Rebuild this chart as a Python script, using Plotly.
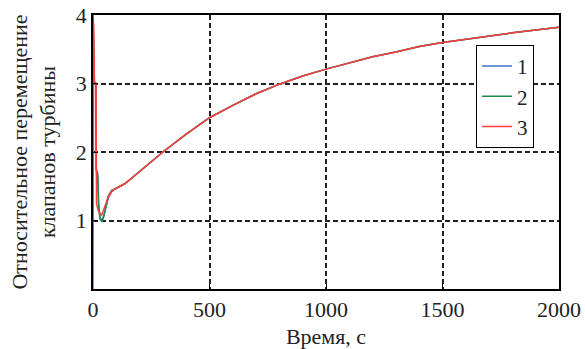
import plotly.graph_objects as go

# Early transient (time, s) for each series
t_early_1 = [0, 4, 6, 12, 14, 20, 24, 30, 38, 45, 55, 66, 80]
y_early_1 = [4.0, 3.3, 3.0, 3.0, 1.75, 1.7, 1.25, 1.05, 1.0, 1.06, 1.2, 1.33, 1.42]

t_early_2 = [0, 4, 6, 12, 14, 20, 24, 30, 38, 45, 55, 66, 80]
y_early_2 = [4.0, 3.3, 3.0, 3.0, 1.72, 1.65, 1.22, 1.02, 0.98, 1.04, 1.22, 1.36, 1.44]

t_early_3 = [0, 2, 3, 6, 13, 15, 22, 30, 37, 45, 55, 66, 80]
y_early_3 = [0.0, 3.88, 3.88, 3.03, 3.0, 1.25, 1.15, 1.1, 1.08, 1.15, 1.25, 1.35, 1.42]

# Common slow recovery (shared by all series)
t_tail = [94, 138, 180, 223, 260, 300, 400, 500, 600, 700, 800, 900, 1000,
          1100, 1200, 1300, 1400, 1500, 1600, 1700, 1800, 1900, 2000]
y_tail = [1.46, 1.54, 1.66, 1.78, 1.89, 2.0, 2.26, 2.5, 2.68, 2.85, 2.99, 3.11, 3.21,
          3.30, 3.39, 3.46, 3.54, 3.60, 3.65, 3.70, 3.74, 3.78, 3.82]

names = ["1", "2", "3"]
colors = ["#4472C4", "#1E8A4A", "#FF3B3B"]

x_ticks = [0, 500, 1000, 1500, 2000]
y_ticks = [1, 2, 3, 4]

series = [(t_early_1, y_early_1), (t_early_2, y_early_2), (t_early_3, y_early_3)]

FAM = "Liberation Serif"
FS = 22
TCOL = "#222222"

fig = go.Figure()
for (te, ye), name, col in zip(series, names, colors):
    fig.add_trace(go.Scatter(
        x=te + t_tail, y=ye + y_tail, mode="lines", name=name,
        line=dict(color=col, width=1.5)))

axis_common = dict(
    showline=True, mirror=True, linecolor="black", linewidth=1.5,
    showgrid=True, gridcolor="#222222", gridwidth=1.5, griddash="5px,3px",
    ticks="inside", ticklen=5, tickcolor="black", tickwidth=1,
    zeroline=False, automargin=False,
    tickfont=dict(family=FAM, size=FS, color=TCOL),
)

fig.update_layout(
    template="simple_white",
    width=585, height=349,
    margin=dict(l=93, r=26, t=15, b=60, autoexpand=False),
    paper_bgcolor="white", plot_bgcolor="white",
    font=dict(family=FAM, size=FS, color=TCOL),
    showlegend=True,
    legend=dict(
        x=0.822, y=0.891, xanchor="left", yanchor="top",
        bordercolor="black", borderwidth=1, bgcolor="white",
        font=dict(family=FAM, size=21, color=TCOL), tracegroupgap=0, itemwidth=30,
    ),
    xaxis=dict(range=[0, 2000], tickvals=x_ticks,
               title=dict(text="Время, с", standoff=10,
                          font=dict(family=FAM, size=FS, color=TCOL)),
               **axis_common),
    yaxis=dict(range=[0, 4], tickvals=y_ticks,
               title=dict(text="Относительное перемещение<br>клапанов турбины",
                          standoff=14, font=dict(family=FAM, size=FS, color=TCOL)),
               **axis_common),
)

fig.write_html("out.html")
